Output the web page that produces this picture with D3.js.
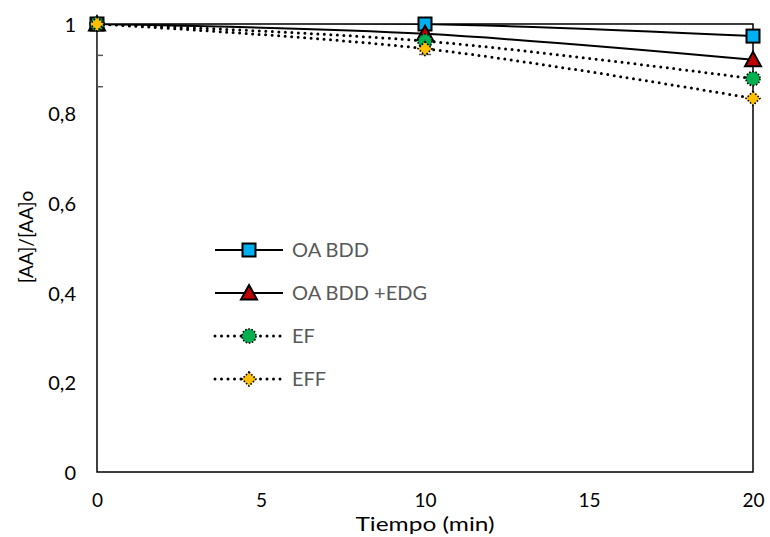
<!DOCTYPE html>
<html>
<head>
<meta charset="utf-8">
<script src="https://cdn.jsdelivr.net/npm/d3@7"></script>
<style>
  html, body { margin: 0; padding: 0; background: #fff; }
  svg { display: block; font-family: Lato, "Open Sans", sans-serif; }
</style>
</head>
<body>
<svg id="chart" width="770" height="537"></svg>
<script>
// Sampling times (min)
const times = [0, 10, 20];

// Normalised concentration [AA]/[AA]o for each process
const seriesNames = ["OA BDD", "OA BDD +EDG", "EF", "EFF"];
const oaBdd    = [1, 1, 0.973];
const oaBddEdg = [1, 0.978, 0.92];
const ef       = [1, 0.962, 0.878];
const eff      = [1, 0.945, 0.834];

// Error bar half-widths (same order as times)
const efErr  = [0.07, 0, 0];
const effErr = [0.14, 0.013, 0];

// Axis ticks
const xTicks = [0, 5, 10, 15, 20];
const yTicks = [0, 0.2, 0.4, 0.6, 0.8, 1];

const series = [
  { name: seriesNames[0], values: oaBdd,    err: null,   marker: "square",   fill: "#00B0F0", dotted: false },
  { name: seriesNames[1], values: oaBddEdg, err: null,   marker: "triangle", fill: "#C00000", dotted: false },
  { name: seriesNames[2], values: ef,       err: efErr,  marker: "circle",   fill: "#00B050", dotted: true },
  { name: seriesNames[3], values: eff,      err: effErr, marker: "diamond",  fill: "#FFC000", dotted: true }
];

const svg = d3.select("#chart");
const plot = { left: 97, right: 753, top: 24, bottom: 472 };

const x = d3.scaleLinear().domain([0, 20]).range([plot.left, plot.right]);
const y = d3.scaleLinear().domain([0, 1]).range([plot.bottom, plot.top]);

const fmt = d => String(d).replace(".", ",");

// clip for lines and error bars
svg.append("defs").append("clipPath").attr("id", "plotClip")
  .append("rect")
  .attr("x", plot.left).attr("y", plot.top)
  .attr("width", plot.right - plot.left).attr("height", plot.bottom - plot.top);

// plot frame
svg.append("rect")
  .attr("x", plot.left).attr("y", plot.top)
  .attr("width", plot.right - plot.left).attr("height", plot.bottom - plot.top)
  .attr("fill", "none").attr("stroke", "#000").attr("stroke-width", 1.5);

// axes (labels only, no tick marks)
const xAxis = d3.axisBottom(x).tickValues(xTicks).tickSize(0).tickPadding(0).tickFormat(fmt);
const gx = svg.append("g").attr("transform", `translate(0,${plot.bottom})`).call(xAxis);
gx.select(".domain").remove();
gx.selectAll("text")
  .attr("y", 35).attr("dy", null)
  .attr("font-size", 19).attr("font-family", "Lato, sans-serif").attr("fill", "#000");

const yAxis = d3.axisLeft(y).tickValues(yTicks).tickSize(0).tickPadding(0).tickFormat(fmt);
const gy = svg.append("g").attr("transform", `translate(${plot.left},0)`).call(yAxis);
gy.select(".domain").remove();
gy.selectAll("text")
  .attr("x", -21).attr("dy", "0.36em")
  .attr("font-size", 20).attr("font-family", "Lato, sans-serif").attr("fill", "#000");

// axis titles
svg.append("text")
  .attr("x", x(10)).attr("y", 531)
  .attr("text-anchor", "middle")
  .attr("font-size", 19)
  .attr("textLength", 139).attr("lengthAdjust", "spacingAndGlyphs")
  .text("Tiempo (min)");

svg.append("text")
  .attr("transform", `translate(33,${237}) rotate(-90)`)
  .attr("text-anchor", "middle")
  .attr("font-size", 19)
  .text("[AA]/[AA]o");

// lines
const line = d3.line()
  .x((d, i) => x(times[i]))
  .y(d => y(d))
  .curve(d3.curveCatmullRom.alpha(0.5));

const clipped = svg.append("g").attr("clip-path", "url(#plotClip)");

series.forEach(s => {
  if (s.err) {
    s.err.forEach((e, i) => {
      if (!e) return;
      const cx = x(times[i]);
      const lo = y(s.values[i] - e), hi = y(s.values[i] + e);
      clipped.append("line").attr("x1", cx).attr("x2", cx).attr("y1", lo).attr("y2", hi)
        .attr("stroke", "#595959").attr("stroke-width", 1.5);
      [lo, hi].forEach(yy => clipped.append("line")
        .attr("x1", cx - 6).attr("x2", cx + 6).attr("y1", yy).attr("y2", yy)
        .attr("stroke", "#595959").attr("stroke-width", 1.5));
    });
  }
});

series.forEach(s => {
  const p = clipped.append("path")
    .attr("d", line(s.values))
    .attr("fill", "none")
    .attr("stroke", "#000");
  if (s.dotted) {
    p.attr("stroke-width", 3).attr("stroke-linecap", "round").attr("stroke-dasharray", "0 6.5");
  } else {
    p.attr("stroke-width", 2);
  }
});

// marker drawing
function drawMarker(g, s, cx, cy) {
  if (s.marker === "square") {
    g.append("rect").attr("x", cx - 6.5).attr("y", cy - 6.5).attr("width", 13).attr("height", 13)
      .attr("fill", s.fill).attr("stroke", "#000").attr("stroke-width", 2);
  } else if (s.marker === "triangle") {
    g.append("path")
      .attr("d", `M${cx},${cy - 8} L${cx + 8},${cy + 6.5} L${cx - 8},${cy + 6.5} Z`)
      .attr("fill", s.fill).attr("stroke", "#000").attr("stroke-width", 2).attr("stroke-linejoin", "miter");
  } else if (s.marker === "circle") {
    g.append("circle").attr("cx", cx).attr("cy", cy).attr("r", 7)
      .attr("fill", s.fill).attr("stroke", "#000").attr("stroke-width", 1.6)
      .attr("stroke-dasharray", "1.6 1.6");
  } else if (s.marker === "diamond") {
    g.append("path")
      .attr("d", `M${cx},${cy - 7} L${cx + 7},${cy} L${cx},${cy + 7} L${cx - 7},${cy} Z`)
      .attr("fill", s.fill).attr("stroke", "#000").attr("stroke-width", 1.6)
      .attr("stroke-dasharray", "1.6 1.6");
  }
}

const markers = svg.append("g");
series.forEach(s => {
  s.values.forEach((v, i) => drawMarker(markers, s, x(times[i]), y(v)));
});

// legend
const legendRows = [250, 293, 336, 379];
const legend = svg.append("g");
series.forEach((s, i) => {
  const ly = legendRows[i];
  const l = legend.append("line").attr("x1", 215).attr("x2", 283).attr("y1", ly).attr("y2", ly)
    .attr("stroke", "#000");
  if (s.dotted) {
    l.attr("stroke-width", 3).attr("stroke-linecap", "round").attr("stroke-dasharray", "0 6.5");
  } else {
    l.attr("stroke-width", 2);
  }
  drawMarker(legend, s, 249, ly);
  legend.append("text")
    .attr("x", 292).attr("y", ly).attr("dy", "0.36em")
    .attr("font-size", 20).attr("fill", "#595959")
    .text(s.name);
});
</script>
</body>
</html>
